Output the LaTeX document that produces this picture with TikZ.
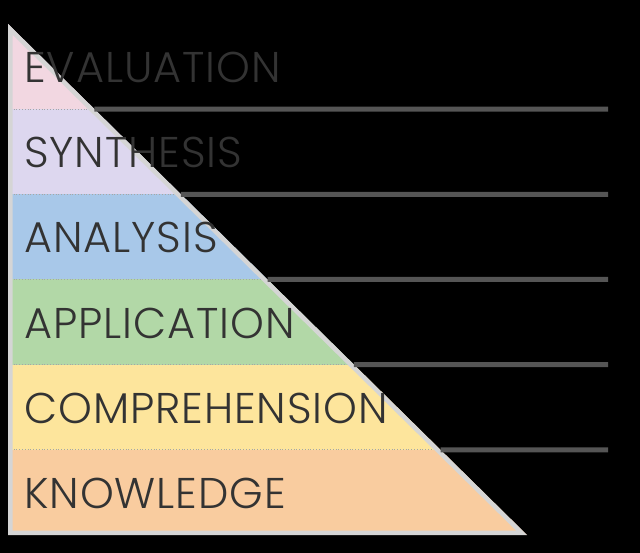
\documentclass[tikz,border=0pt]{standalone}
\usepackage{fontspec}
\newfontfamily\levelfont[LetterSpace=2.2]{Poppins Light}
\usetikzlibrary{calc}
\definecolor{evalc}{HTML}{F2D7E1}
\definecolor{synthc}{HTML}{DDD7EF}
\definecolor{analc}{HTML}{A8C8E9}
\definecolor{applc}{HTML}{B2D8A7}
\definecolor{compc}{HTML}{FDE59C}
\definecolor{knowc}{HTML}{F9CC9F}
\definecolor{rimc}{HTML}{D5D5D5}
\definecolor{inkc}{HTML}{333333}
\definecolor{rulec}{HTML}{555555}
\tikzset{
  level/.style={anchor=base west, inner sep=0pt, text=inkc, font=\levelfont\fontsize{43}{43}\selectfont},
  rule/.style={draw=rulec, line width=5pt},
  seam/.style={draw=black!35, line width=0.8pt, dotted},
}
\begin{document}
\begin{tikzpicture}[x=1pt,y=-1pt]
\fill[black] (0,0) rectangle (640,553);
\useasboundingbox (0,0) rectangle (640,553);
% corners of the pyramid
\coordinate (apex) at (8,24);
\coordinate (baseL) at (8,535);
\coordinate (baseR) at (527,535);
\begin{scope}
  \clip (apex) -- (baseR) -- (baseL) -- cycle;
  \foreach \c [count=\i from 0] in {evalc,synthc,analc,applc,compc,knowc}{
    \fill[\c] (0,{24+85.1667*\i}) rectangle (640,{24+85.1667*(\i+1)});
  }
  \foreach \i in {1,...,5}{
    \draw[seam] (8,{24+85.1667*\i}) -- (640,{24+85.1667*\i});
  }
  \draw[rimc, line width=9pt] (apex) -- (baseR) -- (baseL) -- cycle;
\end{scope}
% rules running out to the right of each seam
\foreach \i in {1,...,5}{
  \coordinate (s\i) at ($(apex)!{\i/6}!(baseR)$);
  \coordinate (e\i) at (608,{24+85.1667*\i});
  \draw[rule] (s\i) -- (e\i);
}
% level names
\foreach \t [count=\i from 0] in {EVALUATION,SYNTHESIS,ANALYSIS,APPLICATION,COMPREHENSION,KNOWLEDGE}{
  \node[level] (lv\i) at (24,{24+85.1667*\i+42.6+16}) {\t};
}
\end{tikzpicture}
\end{document}
